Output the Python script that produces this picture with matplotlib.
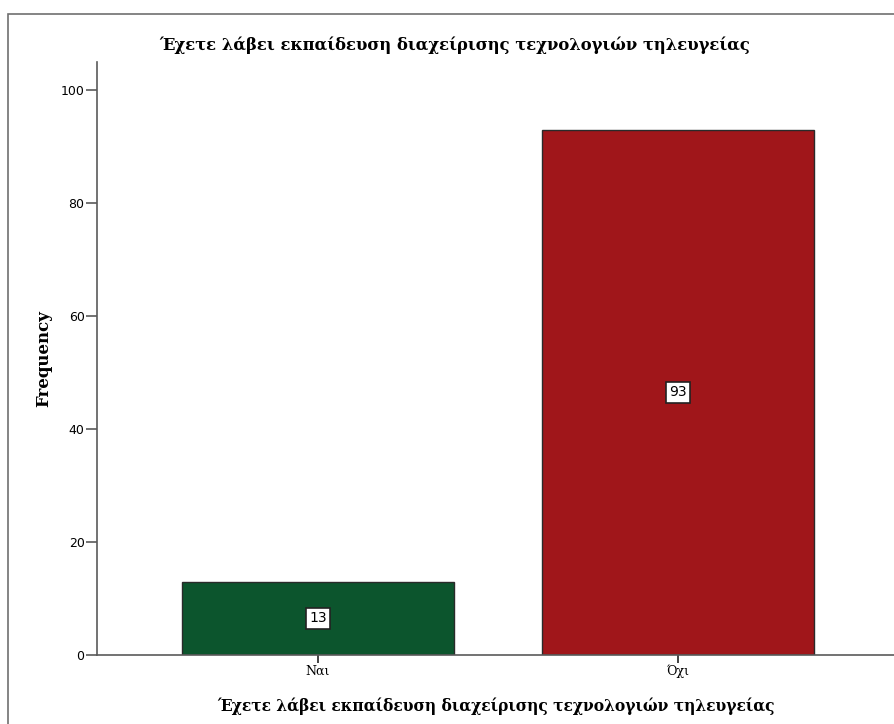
import matplotlib
matplotlib.use("Agg")
import matplotlib.pyplot as plt
from matplotlib.patches import Rectangle

categories = ["Ναι", "Όχι"]
counts = [13, 93]
bar_colors = ["#0c552d", "#a0161a"]
yticks = [0, 20, 40, 60, 80, 100]
title = "Έχετε λάβει εκπαίδευση διαχείρισης τεχνολογιών τηλευγείας"

serif = ["DejaVu Serif"]
axis_gray = "#5a5a5a"

fig = plt.figure(figsize=(8.94, 7.24), dpi=100)

# outer frame, cut off at right and bottom
frame = Rectangle((8 / 894, -0.05), 1.0, 1 - 14 / 724 + 0.05,
                  transform=fig.transFigure, fill=False,
                  edgecolor="#707070", linewidth=1.2)
fig.patches.append(frame)

ax = fig.add_axes([97 / 894, 69 / 724, 1 - 97 / 894, 593 / 724])

x = list(range(len(categories)))
bars = ax.bar(x, counts, width=0.756, color=bar_colors,
              edgecolor="#2a2a2a", linewidth=1.0, zorder=2)

for xi, v in zip(x, counts):
    ax.text(xi, v / 2, str(v), ha="center", va="center", fontsize=10,
            family="DejaVu Sans", zorder=3,
            bbox=dict(boxstyle="square,pad=0.25", facecolor="white",
                      edgecolor="#222222", linewidth=1.2))

ax.set_xlim(-0.614, 1.6)
ax.set_ylim(0, 105)
ax.set_yticks(yticks)
ax.set_xticks(x)
ax.set_xticklabels(categories, fontfamily=serif, fontsize=9)
ax.tick_params(axis="y", length=8, width=1.2, color=axis_gray,
               labelsize=9, pad=1)
ax.tick_params(axis="x", length=6, width=1.2, color="#222222",
               labelsize=9, pad=1)
for lab in ax.get_yticklabels():
    lab.set_family("DejaVu Sans")

for side in ["top", "right"]:
    ax.spines[side].set_visible(False)
for side in ["left", "bottom"]:
    ax.spines[side].set_color(axis_gray)
    ax.spines[side].set_linewidth(1.2)

ax.set_ylabel("Frequency", fontfamily=serif, fontweight="bold",
              fontsize=12, labelpad=6)
ax.set_xlabel(title, fontfamily=serif, fontweight="bold", fontsize=11.2,
              labelpad=14)
fig.text(455 / 894, 1 - 45 / 724, title, ha="center", va="center",
         fontfamily=serif, fontweight="bold", fontsize=11.8)

fig.savefig("out.png", dpi=100)
